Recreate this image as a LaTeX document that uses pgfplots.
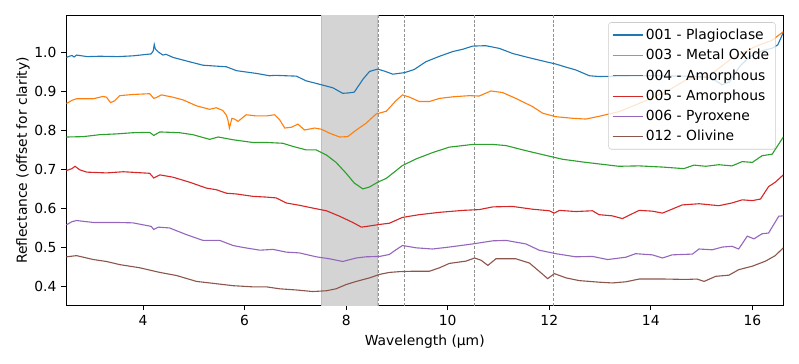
\documentclass[border=0pt]{standalone}
\usepackage{fontspec}
\setmainfont{DejaVu Sans}
\usepackage{pgfplots}
\pgfplotsset{compat=1.18}
\definecolor{cA}{HTML}{1F77B4}
\definecolor{cB}{HTML}{FF7F0E}
\definecolor{cC}{HTML}{2CA02C}
\definecolor{cD}{HTML}{D62728}
\definecolor{cE}{HTML}{9467BD}
\definecolor{cF}{HTML}{8C564B}
\begin{document}
\fontsize{10}{12}\selectfont
\begin{tikzpicture}
\path[use as bounding box] (-47.7pt,-41.8pt) rectangle (528.3pt,220.3pt);
\begin{axis}[
  scale only axis, width=517pt, height=209.3pt,
  xmin=2.485, xmax=16.61, ymin=0.352, ymax=1.096,
  xtick={4,6,...,16}, ytick={0.4,0.5,...,1.0},
  yticklabel style={/pgf/number format/.cd,fixed,fixed zerofill,precision=1},
  /pgf/number format/assume math mode=true,
  tick align=outside, tick pos=left,
  major tick length=3.5pt,
  every tick/.style={black, line width=0.6pt},
  axis line style={line width=0.6pt},
  tick label style={font=\fontsize{10}{12}\selectfont},
  label style={font=\fontsize{10}{12}\selectfont},
  xlabel={Wavelength (μm)},
  ylabel={Reflectance (offset for clarity)},
  ylabel shift=-3.5pt,
  legend cell align=left,
  legend style={at={(1,1)}, anchor=north east, xshift=-5.5pt, yshift=-5pt,
    draw=black!20, rounded corners=2pt, fill=white, fill opacity=0.8, draw opacity=1, text opacity=1,
    font=\fontsize{10}{12}\selectfont, row sep=1.6pt, inner sep=2.5pt},
  legend image code/.code={\draw[#1] (0pt,0pt) -- (21.6pt,0pt);},
  every axis plot/.append style={line width=0.8pt},
  clip=true,
]
\fill[black!17] (axis cs:7.5,0.352) rectangle (axis cs:8.61,1.096);
\draw[black!25, line width=0.4pt] (axis cs:7.5,0.352) -- (axis cs:7.5,1.096);
\draw[black!25, line width=0.4pt] (axis cs:8.61,0.352) -- (axis cs:8.61,1.096);
\draw[gray!85, dash pattern=on 2.2pt off 1.2pt, line width=0.5pt] (axis cs:8.64,0.352) -- (axis cs:8.64,1.096);
\draw[gray!85, dash pattern=on 2.2pt off 1.2pt, line width=0.5pt] (axis cs:9.15,0.352) -- (axis cs:9.15,1.096);
\draw[gray!85, dash pattern=on 2.2pt off 1.2pt, line width=0.5pt] (axis cs:10.53,0.352) -- (axis cs:10.53,1.096);
\draw[gray!85, dash pattern=on 2.2pt off 1.2pt, line width=0.5pt] (axis cs:12.09,0.352) -- (axis cs:12.09,1.096);
\addplot[color=cA] coordinates {(2.49,0.988) (2.55,0.991) (2.60,0.993) (2.64,0.989) (2.69,0.994) (2.9,0.990) (3.15,0.991) (3.5,0.990) (3.80,0.992) (4.16,0.997) (4.20,1.005) (4.22,1.021) (4.24,1.010) (4.26,1.007) (4.30,1.002) (4.39,0.994) (4.45,0.996) (4.59,0.988) (4.85,0.979) (5.18,0.968) (5.40,0.966) (5.64,0.964) (5.84,0.954) (6.23,0.947) (6.49,0.941) (6.60,0.942) (7.02,0.940) (7.21,0.928) (7.48,0.919) (7.74,0.910) (7.93,0.896) (8.05,0.897) (8.16,0.899) (8.33,0.932) (8.46,0.952) (8.62,0.958) (8.75,0.953) (8.92,0.945) (9.15,0.949) (9.34,0.957) (9.57,0.977) (9.84,0.991) (10.10,1.003) (10.30,1.009) (10.49,1.017) (10.75,1.018) (11.02,1.011) (11.28,0.998) (11.61,0.987) (11.93,0.977) (12.13,0.971) (12.33,0.963) (12.52,0.956) (12.79,0.941) (12.98,0.939) (13.37,0.940) (13.77,0.941) (14.16,0.941) (14.6,0.940) (14.88,0.940) (15.2,0.935) (15.4,0.918) (15.55,0.925) (15.75,0.965) (15.95,0.99) (16.2,1.005) (16.4,1.012) (16.5,1.02) (16.61,1.052)};
\addlegendentry{001 - Plagioclase}
\addplot[color=cB] coordinates {(2.49,0.870) (2.6,0.878) (2.69,0.882) (3.02,0.882) (3.21,0.888) (3.28,0.886) (3.36,0.872) (3.44,0.877) (3.54,0.890) (3.80,0.893) (4.13,0.895) (4.21,0.883) (4.26,0.885) (4.36,0.892) (4.59,0.886) (4.79,0.879) (5.05,0.864) (5.31,0.855) (5.44,0.859) (5.57,0.852) (5.64,0.840) (5.67,0.828) (5.70,0.807) (5.75,0.832) (5.80,0.830) (5.87,0.824) (6.03,0.841) (6.23,0.838) (6.43,0.838) (6.59,0.841) (6.69,0.828) (6.79,0.807) (6.92,0.809) (7.05,0.817) (7.18,0.802) (7.38,0.807) (7.51,0.804) (7.67,0.794) (7.87,0.784) (8.03,0.785) (8.20,0.802) (8.39,0.819) (8.59,0.843) (8.79,0.850) (8.98,0.877) (9.11,0.892) (9.25,0.886) (9.44,0.875) (9.64,0.875) (9.84,0.883) (10.10,0.887) (10.43,0.890) (10.62,0.889) (10.85,0.902) (11.08,0.898) (11.34,0.883) (11.67,0.862) (11.87,0.845) (12.13,0.836) (12.46,0.832) (12.72,0.830) (12.98,0.837) (13.37,0.849) (13.77,0.870) (14.3,0.900) (14.69,0.930) (15.15,0.941) (15.6,0.986) (16.06,1.016) (16.39,1.032) (16.61,1.054)};
\addlegendentry{003 - Metal Oxide}
\addplot[color=cC] coordinates {(2.49,0.784) (2.82,0.785) (3.15,0.790) (3.48,0.792) (3.80,0.795) (4.13,0.796) (4.21,0.788) (4.33,0.797) (4.72,0.795) (4.98,0.790) (5.31,0.778) (5.48,0.784) (5.77,0.777) (6.16,0.770) (6.43,0.770) (6.75,0.768) (6.95,0.760) (7.21,0.751) (7.41,0.751) (7.61,0.738) (7.80,0.719) (8.00,0.691) (8.16,0.666) (8.33,0.651) (8.46,0.656) (8.62,0.668) (8.79,0.678) (9.11,0.711) (9.38,0.728) (9.70,0.744) (10.03,0.758) (10.49,0.765) (10.89,0.765) (11.15,0.762) (11.54,0.749) (11.93,0.737) (12.26,0.727) (12.66,0.720) (12.98,0.715) (13.37,0.709) (13.77,0.710) (14.23,0.707) (14.65,0.703) (14.85,0.712) (15.08,0.709) (15.34,0.713) (15.60,0.710) (15.80,0.721) (16.00,0.719) (16.19,0.736) (16.39,0.740) (16.61,0.784)};
\addlegendentry{004 - Amorphous}
\addplot[color=cD] coordinates {(2.49,0.698) (2.6,0.703) (2.66,0.709) (2.75,0.700) (2.89,0.694) (3.28,0.692) (3.61,0.695) (4.13,0.691) (4.21,0.679) (4.33,0.687) (4.59,0.681) (4.92,0.668) (5.25,0.653) (5.44,0.649) (5.64,0.640) (5.84,0.638) (6.16,0.632) (6.43,0.630) (6.62,0.628) (6.82,0.615) (7.08,0.609) (7.34,0.602) (7.61,0.595) (7.87,0.581) (8.13,0.565) (8.30,0.553) (8.46,0.556) (8.66,0.560) (8.85,0.563) (9.11,0.578) (9.44,0.585) (9.84,0.591) (10.30,0.596) (10.62,0.598) (10.89,0.605) (11.28,0.606) (11.67,0.599) (12.00,0.595) (12.10,0.589) (12.20,0.596) (12.52,0.593) (12.85,0.595) (12.98,0.585) (13.24,0.582) (13.44,0.575) (13.77,0.596) (14.03,0.594) (14.23,0.589) (14.62,0.610) (14.95,0.613) (15.34,0.608) (15.60,0.615) (15.80,0.623) (16.00,0.621) (16.16,0.625) (16.32,0.657) (16.45,0.668) (16.61,0.687)};
\addlegendentry{005 - Amorphous}
\addplot[color=cE] coordinates {(2.49,0.559) (2.6,0.567) (2.69,0.570) (3.02,0.565) (3.48,0.565) (3.80,0.564) (4.16,0.555) (4.21,0.547) (4.30,0.553) (4.52,0.551) (4.85,0.534) (5.18,0.519) (5.51,0.519) (5.77,0.506) (5.97,0.501) (6.30,0.494) (6.56,0.496) (6.82,0.489) (7.08,0.487) (7.41,0.477) (7.67,0.472) (7.93,0.465) (8.20,0.474) (8.39,0.477) (8.66,0.478) (8.85,0.483) (8.98,0.495) (9.11,0.506) (9.38,0.500) (9.70,0.497) (10.03,0.502) (10.49,0.510) (10.89,0.518) (11.15,0.519) (11.54,0.510) (11.80,0.494) (12.13,0.485) (12.52,0.477) (12.85,0.478) (13.15,0.470) (13.51,0.476) (13.70,0.485) (14.03,0.482) (14.23,0.474) (14.42,0.482) (14.82,0.484) (14.95,0.497) (15.21,0.495) (15.41,0.502) (15.60,0.504) (15.73,0.497) (15.90,0.530) (16.03,0.523) (16.19,0.536) (16.32,0.538) (16.52,0.581) (16.61,0.582)};
\addlegendentry{006 - Pyroxene}
\addplot[color=cF] coordinates {(2.49,0.477) (2.69,0.480) (3.02,0.470) (3.28,0.465) (3.54,0.457) (3.93,0.449) (4.33,0.437) (4.66,0.429) (5.05,0.414) (5.38,0.409) (5.77,0.403) (6.16,0.400) (6.43,0.400) (6.69,0.395) (7.02,0.392) (7.34,0.388) (7.61,0.390) (7.80,0.395) (8.00,0.406) (8.20,0.414) (8.46,0.423) (8.66,0.432) (8.85,0.437) (9.05,0.439) (9.31,0.440) (9.64,0.440) (9.84,0.449) (10.03,0.460) (10.36,0.466) (10.53,0.474) (10.66,0.468) (10.79,0.455) (10.95,0.472) (11.34,0.472) (11.61,0.461) (11.80,0.440) (11.97,0.421) (12.10,0.434) (12.33,0.423) (12.59,0.416) (12.98,0.412) (13.24,0.410) (13.51,0.413) (13.77,0.420) (14.29,0.420) (14.69,0.419) (14.91,0.420) (15.05,0.414) (15.28,0.427) (15.54,0.430) (15.73,0.444) (16.00,0.453) (16.26,0.466) (16.45,0.480) (16.61,0.500)};
\addlegendentry{012 - Olivine}
\end{axis}
\end{tikzpicture}
\end{document}
